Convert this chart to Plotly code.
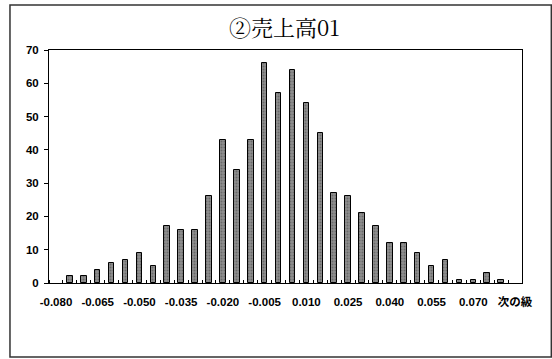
import plotly.graph_objects as go

categories = ["-0.080", "-0.075", "-0.070", "-0.065", "-0.060", "-0.055", "-0.050", "-0.045",
              "-0.040", "-0.035", "-0.030", "-0.025", "-0.020", "-0.015", "-0.010", "-0.005",
              "0.000", "0.005", "0.010", "0.015", "0.020", "0.025", "0.030", "0.035",
              "0.040", "0.045", "0.050", "0.055", "0.060", "0.065", "0.070", "0.075",
              "0.080", "次の級"]
counts = [0, 2, 2, 4, 6, 7, 9, 5,
          17, 16, 16, 26, 43, 34, 43, 66,
          57, 64, 54, 45, 27, 26, 21, 17,
          12, 12, 9, 5, 7, 1, 1, 3,
          1, 0]
label_step = 3
y_ticks = [0, 10, 20, 30, 40, 50, 60, 70]
title_text = "②売上高01"

idx = list(range(len(categories)))
tick_idx = idx[::label_step]
tick_text = [categories[i] for i in tick_idx]
line_widths = [0 if c == 0 else 1 for c in counts]

fig = go.Figure(go.Bar(
    x=idx, y=counts, width=0.4,
    marker=dict(color="#8f8f8f", line=dict(color="black", width=line_widths),
                pattern=dict(shape=".", fgcolor="#444444", size=3, solidity=0.35)),
    hoverinfo="skip",
))

font_family = "Liberation Sans, Arial, Noto Sans CJK JP"
fig.update_layout(
    width=552, height=359,
    margin=dict(l=49, r=30, t=50, b=76),
    paper_bgcolor="white", plot_bgcolor="white",
    showlegend=False,
    title=dict(text=title_text, x=0.515, xanchor="center", y=0.922, yanchor="middle",
               font=dict(family="Noto Serif CJK JP, Noto Sans CJK JP", size=22, color="black")),
    xaxis=dict(
        range=[-0.5, len(categories) - 0.5],
        tickmode="array", tickvals=tick_idx, ticktext=tick_text,
        ticks="", showgrid=False, zeroline=False, ticklabelstandoff=8,
        showline=True, linecolor="black", linewidth=1, mirror=True,
        tickfont=dict(family=font_family, size=11.5, color="black", weight="bold"),
        minor=dict(tickmode="array", tickvals=[i - 0.5 for i in idx] + [len(categories) - 0.5],
                   ticks="inside", ticklen=3, tickcolor="black", showgrid=False),
    ),
    yaxis=dict(
        range=[0, 70], tickmode="array", tickvals=y_ticks,
        ticks="outside", ticklen=4, tickcolor="black",
        showgrid=False, zeroline=False, ticklabelstandoff=3,
        showline=True, linecolor="black", linewidth=1, mirror=True,
        tickfont=dict(family=font_family, size=11.5, color="black", weight="bold"),
    ),
    bargap=0,
)

fig.add_shape(type="rect", xref="paper", yref="paper",
              x0=-0.0825, x1=1.062, y0=-0.318, y1=1.193,
              line=dict(color="#333333", width=1.5), fillcolor="rgba(0,0,0,0)", layer="below")

fig.write_html("out.html")
